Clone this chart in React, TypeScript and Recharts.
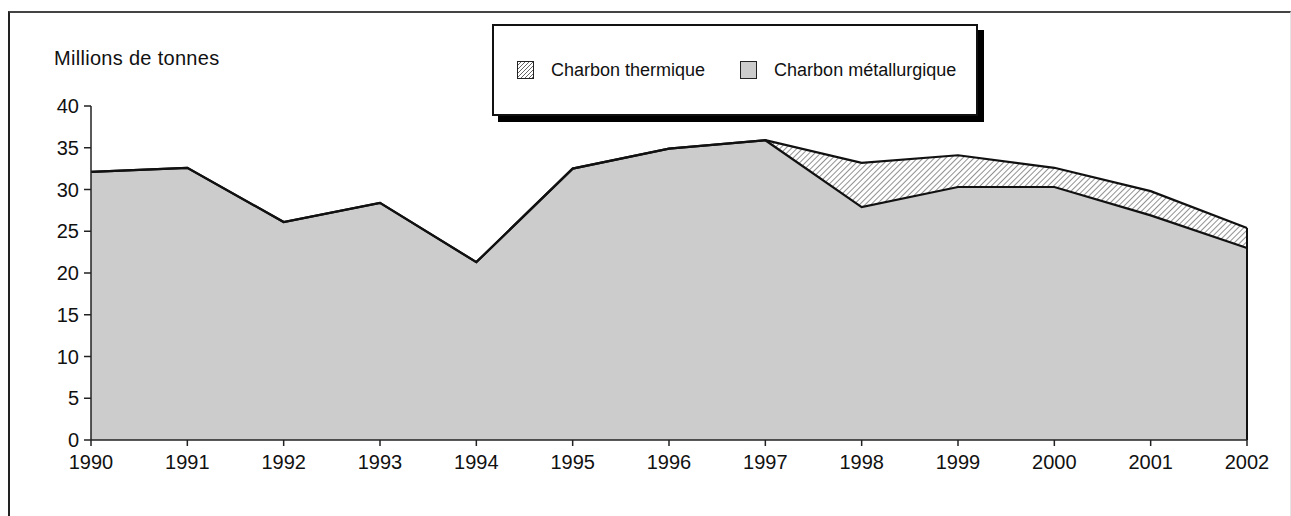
import { ComposedChart, Area, Line, XAxis, YAxis, ReferenceLine } from 'recharts';

const years = ['1990', '1991', '1992', '1993', '1994', '1995', '1996', '1997', '1998', '1999', '2000', '2001', '2002'];
const metallurgique = [32.1, 32.6, 26.1, 28.4, 21.3, 32.5, 34.9, 35.9, 27.9, 30.3, 30.3, 26.9, 23.0];
const thermique = [0, 0, 0, 0, 0, 0, 0, 0, 5.3, 3.8, 2.3, 2.9, 2.4];
const yTicks = [0, 5, 10, 15, 20, 25, 30, 35, 40];
const unitLabel = 'Millions de tonnes';
const seriesNames = { thermique: 'Charbon thermique', metallurgique: 'Charbon métallurgique' };

const FONT = '"Liberation Sans", Arial, sans-serif';

const data = years.map((year, i) => ({ year, metallurgique: metallurgique[i], thermique: thermique[i] }));
const last = data.length - 1;

function LegendBox() {
  const swatch = (bg: string) => ({
    width: 17,
    height: 18,
    border: '1px solid #222',
    background: bg,
    boxSizing: 'border-box' as const,
  });
  const hatch = 'repeating-linear-gradient(135deg, #fff 0px, #fff 1.6px, #666 1.6px, #666 2.8px)';
  return (
    <div
      style={{
        position: 'absolute',
        left: 492,
        top: 24,
        width: 486,
        height: 92,
        border: '2px solid #111',
        boxShadow: '6px 6px 0 #000',
        background: '#fff',
        display: 'flex',
        alignItems: 'center',
        fontFamily: FONT,
        fontSize: 18,
        color: '#111',
        boxSizing: 'border-box',
        paddingLeft: 23,
      }}
    >
      <div style={swatch(hatch)} />
      <span style={{ marginLeft: 17 }}>{seriesNames.thermique}</span>
      <div style={{ ...swatch('#cccccc'), marginLeft: 35 }} />
      <span style={{ marginLeft: 17 }}>{seriesNames.metallurgique}</span>
    </div>
  );
}

export default function App() {
  const tick = { fill: '#111', fontSize: 20, fontFamily: FONT };
  return (
    <div style={{ position: 'absolute', left: 0, top: 0, width: 1291, height: 516, background: '#fff', overflow: 'hidden' }}>
      <div
        style={{
          position: 'absolute',
          left: 8,
          top: 11,
          width: 1280,
          height: 520,
          borderLeft: '2px solid #222',
          borderTop: '2px solid #444',
          borderRight: '1px solid #e4e4e4',
        }}
      />
      <div
        style={{
          position: 'absolute',
          left: 54,
          top: 47,
          fontFamily: FONT,
          fontSize: 20,
          letterSpacing: 0.3,
          color: '#111',
          whiteSpace: 'nowrap',
        }}
      >
        {unitLabel}
      </div>
      <ComposedChart
        width={1291}
        height={516}
        data={data}
        margin={{ top: 106, right: 44, bottom: 46, left: 51 }}
        style={{ position: 'absolute', left: 0, top: 0 }}
      >
        <defs>
          <pattern id="hatch" width="4" height="4" patternUnits="userSpaceOnUse" patternTransform="rotate(45)">
            <rect width="4" height="4" fill="#fff" />
            <line x1="0" y1="0" x2="0" y2="4" stroke="#555" strokeWidth="1.3" />
          </pattern>
        </defs>
        <XAxis
          dataKey="year"
          stroke="#222"
          strokeWidth={1.5}
          tick={tick}
          tickSize={6}
          tickMargin={9}
          height={30}
          interval={0}
        />
        <YAxis
          domain={[0, 40]}
          ticks={yTicks}
          stroke="#222"
          strokeWidth={1.5}
          tick={tick}
          tickSize={7}
          tickMargin={5}
          width={40}
          interval={0}
        />
        <Area
          type="linear"
          dataKey="metallurgique"
          stackId="1"
          fill="#cccccc"
          fillOpacity={1}
          stroke="none"
          isAnimationActive={false}
          dot={false}
          activeDot={false}
        />
        <Area
          type="linear"
          dataKey="thermique"
          stackId="1"
          fill="url(#hatch)"
          fillOpacity={1}
          stroke="#111"
          strokeWidth={2.2}
          isAnimationActive={false}
          dot={false}
          activeDot={false}
        />
        <Line
          type="linear"
          dataKey="metallurgique"
          stroke="#111"
          strokeWidth={2.2}
          dot={false}
          activeDot={false}
          isAnimationActive={false}
        />
        <ReferenceLine
          segment={[
            { x: years[last], y: 0 },
            { x: years[last], y: metallurgique[last] + thermique[last] },
          ]}
          stroke="#111"
          strokeWidth={2}
        />
      </ComposedChart>
      <LegendBox />
    </div>
  );
}
